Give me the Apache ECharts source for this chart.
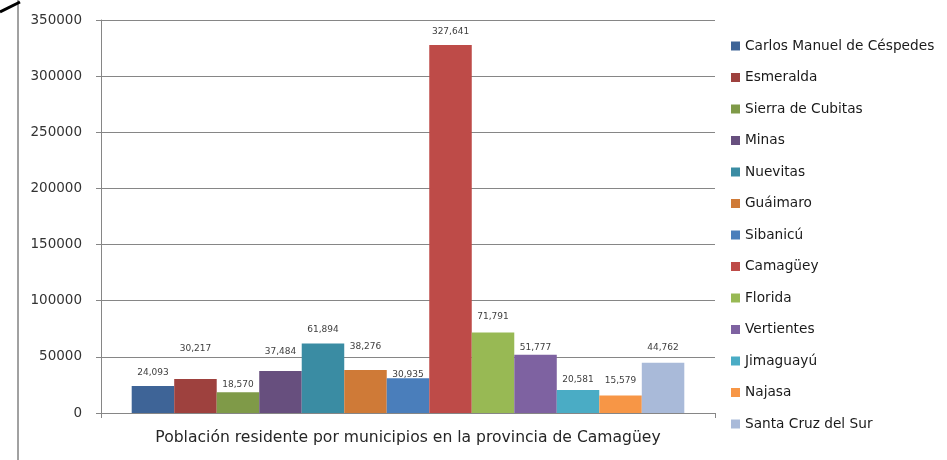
<!DOCTYPE html>
<html>
  <head>
    <meta charset="utf-8" />
    <title>Población residente por municipios</title>
    <script src="https://cdn.jsdelivr.net/npm/echarts@6/dist/echarts.min.js"></script>
  </head>
  <body style="margin: 0; background: #fff">
    <div id="main" style="width: 947px; height: 460px"></div>
    <script type="text/javascript">
      // datos
      var categories = ['Población residente por municipios en la provincia de Camagüey'];
      var municipios = [
        'Carlos Manuel de Céspedes', 'Esmeralda', 'Sierra de Cubitas', 'Minas',
        'Nuevitas', 'Guáimaro', 'Sibanicú', 'Camagüey', 'Florida',
        'Vertientes', 'Jimaguayú', 'Najasa', 'Santa Cruz del Sur'
      ];
      var poblacion = [24093, 30217, 18570, 37484, 61894, 38276, 30935, 327641, 71791, 51777, 20581, 15579, 44762];
      var yTicks = [0, 50000, 100000, 150000, 200000, 250000, 300000, 350000];

      // estilo
      var colores = [
        '#3e6497', '#9e413e', '#7f9a48', '#674f7e', '#3a8ca3', '#cf7a37', '#4a7ebb',
        '#be4b48', '#98b954', '#7e62a1', '#4aacc5', '#f79646', '#a9bad9'
      ];
      // desplazamiento vertical de cada etiqueta (como en el original)
      var subidaEtiqueta = [15, 32, 9, 21, 15, 25, 5, 15, 17, 9, 12, 16, 17];

      var myChart = echarts.init(document.getElementById('main'));

      var series = municipios.map(function (nombre, i) {
        return {
          name: nombre,
          type: 'bar',
          data: [poblacion[i]],
          barGap: '0%',
          barCategoryGap: '10%',
          itemStyle: { color: colores[i] },
          label: {
            show: true,
            position: 'top',
            distance: 0,
            offset: [0, -(subidaEtiqueta[i] - 6)],
            fontFamily: 'DejaVu Sans',
            fontSize: 9,
            color: '#404040',
            formatter: function (p) {
              return p.value.toLocaleString('en-US');
            }
          }
        };
      });

      var option = {
        animation: false,
        backgroundColor: '#fff',
        grid: { left: 101, right: 232, top: 20, bottom: 47 },
        legend: {
          orient: 'vertical',
          left: 726,
          top: 34,
          icon: 'rect',
          itemWidth: 9,
          itemHeight: 9,
          itemGap: 17.5,
          textStyle: { fontFamily: 'DejaVu Sans', fontSize: 13.7, lineHeight: 14, color: '#1a1a1a' },
          data: municipios
        },
        xAxis: {
          type: 'category',
          data: categories,
          axisLine: { lineStyle: { color: '#868686' } },
          axisTick: { show: true, length: 5, lineStyle: { color: '#868686' } },
          axisLabel: { fontFamily: 'DejaVu Sans', fontSize: 15.6, color: '#262626', margin: 17 }
        },
        yAxis: {
          type: 'value',
          min: yTicks[0],
          max: yTicks[yTicks.length - 1],
          interval: yTicks[1] - yTicks[0],
          axisLine: { show: true, lineStyle: { color: '#868686' } },
          axisTick: { show: true, length: 5, lineStyle: { color: '#868686' } },
          axisLabel: {
            fontFamily: 'DejaVu Sans',
            fontSize: 13.5,
            color: '#333',
            margin: 19,
            formatter: function (v) { return String(v); }
          },
          splitLine: { lineStyle: { color: '#868686' } }
        },
        graphic: [
          { type: 'line', shape: { x1: 18, y1: 0, x2: 18, y2: 460 }, style: { stroke: '#444', lineWidth: 1 } },
          { type: 'line', shape: { x1: 0, y1: 12, x2: 20, y2: 2 }, style: { stroke: '#000', lineWidth: 3 } }
        ],
        series: series
      };

      myChart.setOption(option);
    </script>
  </body>
</html>
